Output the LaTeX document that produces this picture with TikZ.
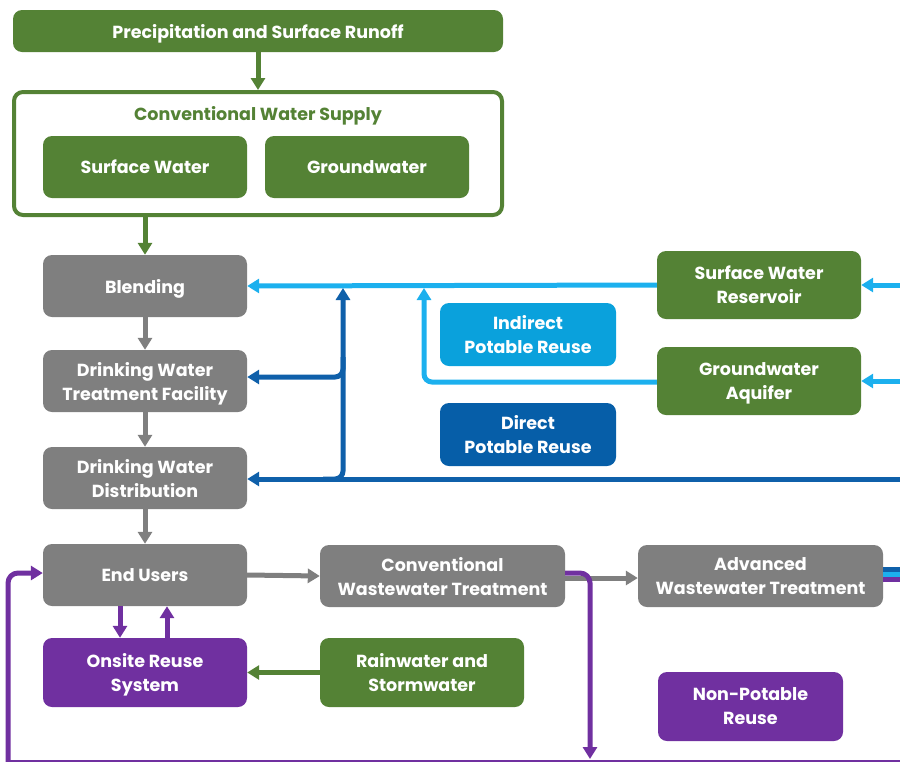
\documentclass[tikz,border=0pt]{standalone}
\usepackage{fontspec}
\setmainfont{Poppins}
\usetikzlibrary{arrows.meta}
\definecolor{cgreen}{HTML}{548235}
\definecolor{cgray}{HTML}{7F7F7F}
\definecolor{cpurple}{HTML}{7030A0}
\definecolor{clblue}{HTML}{1CB0EE}
\definecolor{clbox}{HTML}{0AA1DC}
\definecolor{cdblue}{HTML}{0F60AA}
\definecolor{cdbox}{HTML}{065EA8}
\begin{document}
\begin{tikzpicture}[x=1pt,y=-1pt,
  box/.style={rounded corners=9pt, text=white, font=\fontsize{17.5}{24}\selectfont\bfseries, align=center, inner sep=0pt, text depth=0pt},
  gbox/.style={box, fill=cgreen},
  graybox/.style={box, fill=cgray},
  pbox/.style={box, fill=cpurple},
  arr/.style={line width=5pt, -{Triangle[length=12pt,width=14pt]}},
  ln/.style={line width=5pt},
]
\useasboundingbox (0,0) rectangle (900,761);
% nodes
\node[gbox, minimum width=490pt, minimum height=42pt] (precip) at (258,31) {Precipitation and Surface Runoff};
\node[draw=cgreen, line width=4pt, rounded corners=9pt, fill=white, minimum width=488pt, minimum height=123pt] (cws) at (258,153.5) {};
\node[text=cgreen, font=\fontsize{17.5}{24}\selectfont\bfseries, text depth=0pt] (cwstitle) at (258,113) {Conventional Water Supply};
\node[gbox, minimum width=204pt, minimum height=62pt] (sw) at (145,167) {Surface Water};
\node[gbox, minimum width=204pt, minimum height=62pt] (gw) at (367,167) {Groundwater};

\node[graybox, minimum width=204pt, minimum height=62pt] (blend) at (145,286) {Blending};
\node[graybox, minimum width=204pt, minimum height=62pt] (dwtf) at (145,381) {Drinking Water\\Treatment Facility};
\node[graybox, minimum width=204pt, minimum height=62pt] (dwd) at (145,478) {Drinking Water\\Distribution};
\node[graybox, minimum width=204pt, minimum height=62pt] (eu) at (145,575) {End Users};
\node[pbox, minimum width=204pt, minimum height=69pt] (onsite) at (145,672.5) {Onsite Reuse\\System};
\node[graybox, minimum width=245pt, minimum height=62pt] (cwt) at (442.5,576) {Conventional\\Wastewater Treatment};
\node[graybox, minimum width=245pt, minimum height=62pt] (awt) at (760.5,576) {Advanced\\Wastewater Treatment};
\node[gbox, minimum width=204pt, minimum height=69pt] (rain) at (422,672.5) {Rainwater and\\Stormwater};
\node[pbox, minimum width=185pt, minimum height=69pt] (npr) at (750.5,706.5) {Non-Potable\\Reuse};
\node[gbox, minimum width=204pt, minimum height=68pt] (swr) at (759,285) {Surface Water\\Reservoir};
\node[gbox, minimum width=204pt, minimum height=68pt] (gwa) at (759,381) {Groundwater\\Aquifer};
\node[box, fill=clbox, minimum width=176pt, minimum height=63pt] (ipr) at (528,334.5) {Indirect\\Potable Reuse};
\node[box, fill=cdbox, minimum width=176pt, minimum height=63pt] (dpr) at (528,434.5) {Direct\\Potable Reuse};

% coordinates
\coordinate (inswr) at (900,285);
\coordinate (ingwa) at (900,381);
\coordinate (indp) at (900,479);
\coordinate (iprup) at (424,288);
\coordinate (dprup) at (343,288);
\coordinate (dpcorner) at (343,479);
\coordinate (dpbranch) at (343,377);
\coordinate (outdb) at (900,569.7);
\coordinate (outlb) at (900,574.6);
\coordinate (outpu) at (900,579.7);
\coordinate (npdown) at (590,759);
\coordinate (bottomr) at (900,762.2);
\coordinate (bottoml) at (8,762.2);
\coordinate (loopup) at (8,573);

% green arrows
\draw[arr, cgreen] (precip.south) -- (cws.north);
\draw[arr, cgreen] (cws.south -| blend.north) -- (blend.north);
\draw[arr, cgreen] (rain.west) -- (onsite.east);

% gray arrows
\draw[arr, cgray] (blend.south) -- (dwtf.north);
\draw[arr, cgray] (dwtf.south) -- (dwd.north);
\draw[arr, cgray] (dwd.south) -- (eu.north);
\draw[arr, cgray] (eu.east) -- (cwt.west);
\draw[arr, cgray] ([yshift=-2pt]cwt.east) -- ([yshift=-2pt]awt.west);

% light blue
\draw[arr, clblue] (inswr) -- (swr.east);
\draw[arr, clblue] (ingwa) -- (gwa.east);
\draw[arr, clblue] (swr.west) -- (blend.east);
\draw[arr, clblue, rounded corners=8pt] ([yshift=-1pt]gwa.west) -| (iprup);

% dark blue
\draw[arr, cdblue] (indp) -- (dwd.east |- indp);
\draw[arr, cdblue, rounded corners=8pt] ([xshift=-20pt]dpcorner) -| (dprup);
\draw[arr, cdblue, rounded corners=8pt] ([yshift=20pt]dpbranch) |- (dwtf.east |- dpbranch);

% outputs of advanced treatment
\draw[line width=4.8pt, cdblue] (awt.east |- outdb) -- (outdb);
\draw[line width=4.8pt, clblue] (awt.east |- outlb) -- (outlb);
\draw[line width=4.8pt, cpurple] (awt.east |- outpu) -- (outpu);

% purple
\draw[arr, cpurple] (eu.south -| 120,0) -- (onsite.north -| 120,0);
\draw[arr, cpurple] (onsite.north -| 167,0) -- (eu.south -| 167,0);
\draw[arr, cpurple, rounded corners=10pt] ([yshift=3pt]cwt.east) -| (npdown);
\draw[ln, cpurple] (bottomr) -- (bottoml);
\draw[arr, cpurple, rounded corners=10pt] (bottoml) -- (loopup) -- (eu.west |- loopup);
\end{tikzpicture}
\end{document}
